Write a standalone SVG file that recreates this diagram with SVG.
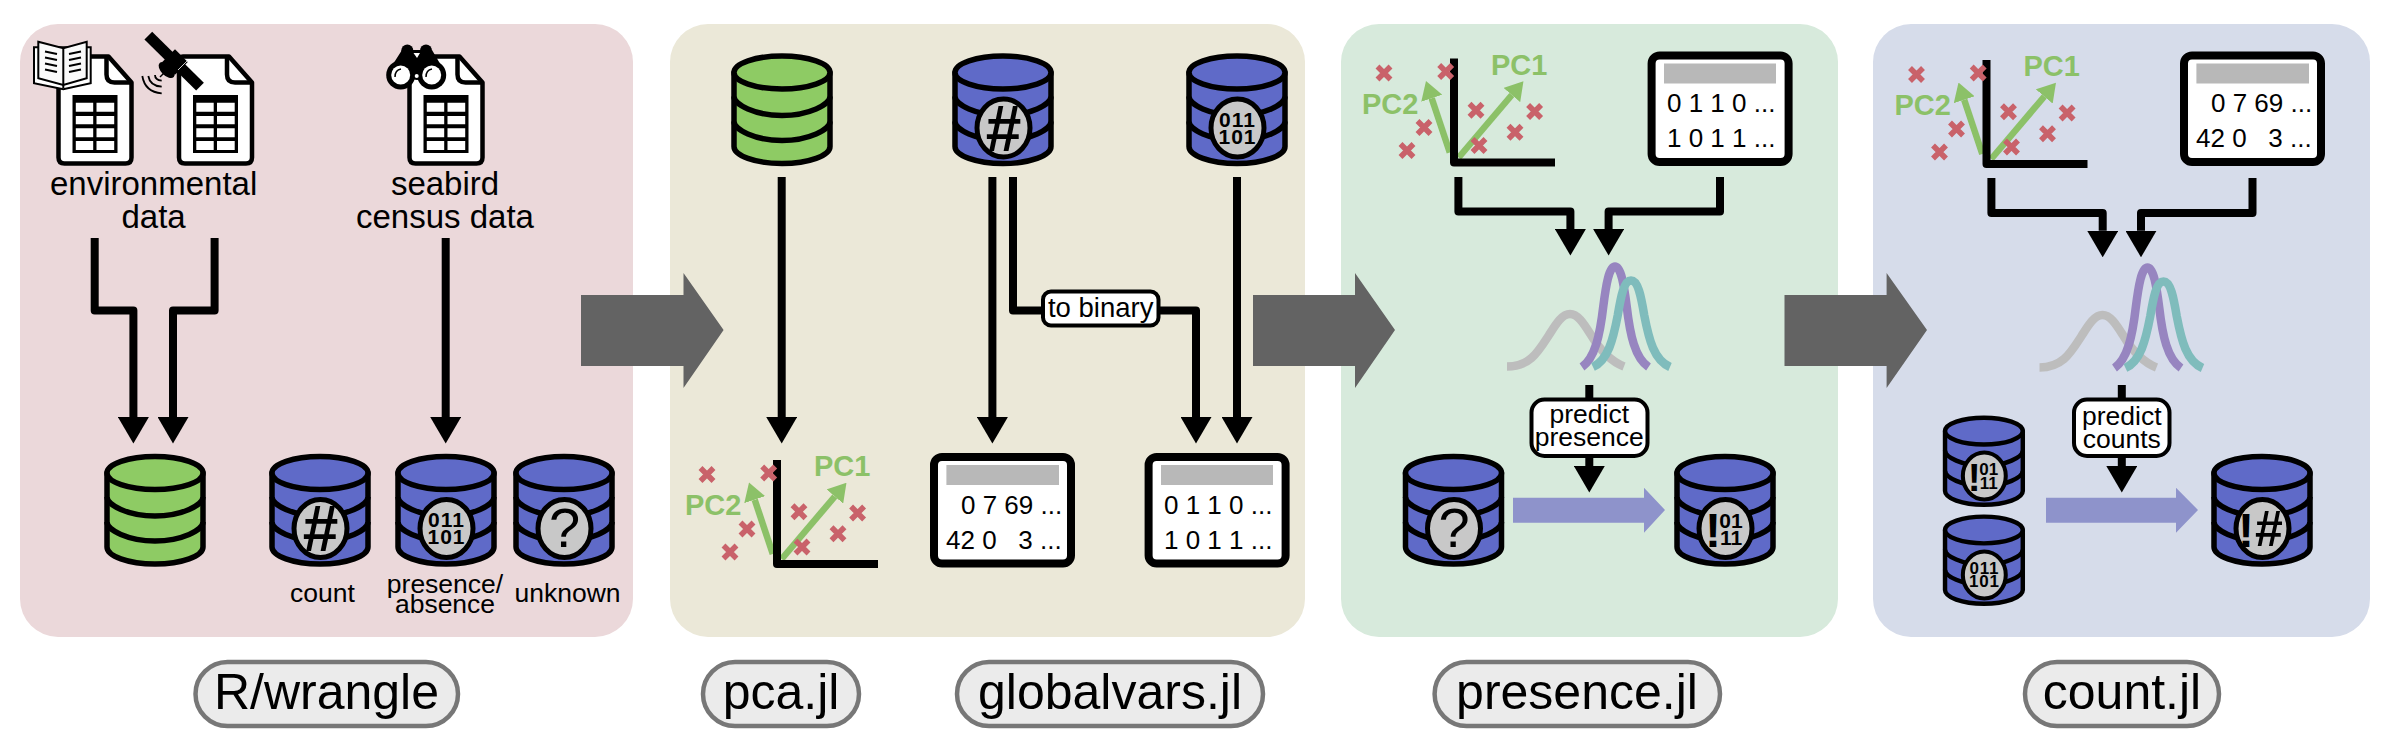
<svg xmlns="http://www.w3.org/2000/svg" xmlns:xlink="http://www.w3.org/1999/xlink" width="2395" height="749" viewBox="0 0 2395 749">
<style>
text{font-family:"Liberation Sans",Arial,sans-serif;fill:#000}
.m{text-anchor:middle}
.lab{font-size:33px}
.sm{font-size:26.5px}
.pill{font-size:50px}
.row{font-size:26px;white-space:pre}
.pc{font-size:29px;font-weight:bold;fill:#8cc168}
.bad{font-weight:bold;text-anchor:middle}
.bin{font-size:21px;letter-spacing:1px}
.arr{fill:none;stroke:#000;stroke-width:8;stroke-linejoin:round;marker-end:url(#ah)}
.box{fill:#fff;stroke:#000;stroke-width:4;}
.pb{fill:#ebebeb;stroke:#777;stroke-width:4.5}
.tb{fill:#fff;stroke:#000;stroke-width:8}
.bar{fill:#b8b8b8}
.big{fill:#636363}
.lt{fill:#8e93cb}
.bc{fill:#c8c8c8;stroke:#000;stroke-width:5}
.curve{fill:none;stroke-width:8.500}
</style>
<defs>
<marker id="ah" viewBox="0 0 26.5 31" refX="0" refY="15.5" markerWidth="26.5" markerHeight="31" markerUnits="userSpaceOnUse" orient="auto"><path d="M0,0L26.5,15.5L0,31Z" fill="#000"/></marker>
<marker id="gh" viewBox="0 0 18 22" refX="0" refY="11" markerWidth="18" markerHeight="22" markerUnits="userSpaceOnUse" orient="auto"><path d="M0,0L18,11L0,22Z" fill="#8cc168"/></marker>
<g id="dbg" stroke="#000" stroke-width="5.5" stroke-linejoin="round">
<path d="M3,19V93C3,102 24,110 51,110C78,110 99,102 99,93V19Z" fill="#8ecb64"/>
<path d="M3,43C3,51 24,62 51,62C78,62 99,51 99,43M3,68C3,76 24,87 51,87C78,87 99,76 99,68" fill="none"/>
<ellipse cx="51" cy="19" rx="48" ry="16.5" fill="#8ecb64"/>
</g>
<g id="dbb" stroke="#000" stroke-width="5.5" stroke-linejoin="round">
<path d="M3,19V93C3,102 24,110 51,110C78,110 99,102 99,93V19Z" fill="#5f6ac8"/>
<path d="M3,43C3,51 24,62 51,62C78,62 99,51 99,43M3,68C3,76 24,87 51,87C78,87 99,76 99,68" fill="none"/>
<ellipse cx="51" cy="19" rx="48" ry="16.5" fill="#5f6ac8"/>
<ellipse class="bc" cx="51.5" cy="74.5" rx="26.5" ry="29"/>
</g>
<g id="doc">
<path d="M7,3H53L76,29V104Q76,110 70,110H9Q3,110 3,104V9Q3,3 7,3Z" fill="#fff" stroke="#000" stroke-width="4.5" stroke-linejoin="round"/>
<path d="M51,3V21Q51,29 59,29H76" fill="none" stroke="#000" stroke-width="4.5"/>
<rect x="17" y="41.5" width="45" height="58" fill="#000"/>
<path d="M20.3,49.2h17.4v9h-17.4zM41,49.2h17.7v9H41zM20.3,62.5h17.4v8.3h-17.4zM41,62.5h17.7v8.3H41zM20.3,74.800h17.4v9h-17.4zM41,74.800h17.700v9H41zM20.300,87.500h17.400v9h-17.400zM41,87.500h17.700v9H41z" fill="#fff"/>
</g>
<path id="x" d="M-6.500,-6.500L6.500,6.500M-6.500,6.500L6.500,-6.500" stroke="#c9626a" stroke-width="5.500" fill="none"/>
<g id="pcam">
<path d="M781.7,559L834.800,496.500" stroke="#8cc168" stroke-width="6.500" fill="none" marker-end="url(#gh)"/>
<path d="M772.8,554L754.700,499.700" stroke="#8cc168" stroke-width="6.500" fill="none" marker-end="url(#gh)"/>
<path d="M777,460V564H878" fill="none" stroke="#000" stroke-width="8" stroke-linejoin="round"/>
<use xlink:href="#x" href="#x" x="707" y="474.500"/>
<use xlink:href="#x" href="#x" x="768.700" y="473"/>
<use xlink:href="#x" href="#x" x="799" y="511.700"/>
<use xlink:href="#x" href="#x" x="857.600" y="513"/>
<use xlink:href="#x" href="#x" x="838" y="533.700"/>
<use xlink:href="#x" href="#x" x="747" y="529"/>
<use xlink:href="#x" href="#x" x="730" y="552"/>
<use xlink:href="#x" href="#x" x="802" y="547"/>
</g>
<g id="curves">
<path class="curve" stroke="#bdbdbd" d="M1507,366.500C1530,366.500 1538,352 1549,335C1556,324 1562,314 1570,314C1578,314 1584,324 1591,335C1600,350 1610,361 1624,366.500"/>
<path class="curve" stroke="#9785c0" d="M1582,367C1595,358 1600,335 1603.300,306.300C1606,285 1609,266.600 1615,266.600C1621,266.600 1624,285 1626.700,306.300C1630,335 1635,358 1648.500,367"/>
<path class="curve" stroke="#7fbcbc" d="M1593,367C1608,360 1613,340 1617.800,315C1621,296 1624,280.500 1631,280.500C1638,280.500 1641,296 1644.200,315C1649,340 1654,360 1670,367"/>
</g>
</defs>

<g id="panels">
<rect id="panel-wrangle" x="20" y="24" width="613" height="613" rx="38" fill="#ebd8da"/>
<rect id="panel-globalvars" x="670" y="24" width="635" height="613" rx="38" fill="#ebe8d8"/>
<rect id="panel-presence" x="1341" y="24" width="497" height="613" rx="38" fill="#d7eadc"/>
<rect id="panel-count" x="1873" y="24" width="497" height="613" rx="38" fill="#d6dcea"/>
</g>

<g id="flow-arrows">
<path class="big" d="M581,295H683.500V273L723.600,330L683.500,388V366H581Z"/>
<path class="big" d="M1253,295H1355V273L1395,330L1355,388V366H1253Z"/>
<path class="big" d="M1784.500,295H1886.600V273L1927,330L1886.600,388V366H1784.500Z"/>
<path class="lt" d="M1513,497.700H1644V487.700L1665,510L1644,532.700V522.700H1513Z"/>
<path class="lt" d="M2046,497.700H2176V487.700L2198,510L2176,532.700V522.700H2046Z"/>
</g>

<g id="connectors">
<path class="arr" d="M94.700,238V310.500H133.400V417"/>
<path class="arr" d="M214.600,238V310.500H173V417"/>
<path class="arr" d="M445.700,238V417"/>
<path class="arr" d="M781.700,177V417"/>
<path class="arr" d="M992.400,177V417"/>
<path class="arr" d="M1013,177V310.500H1196V417"/>
<path class="arr" d="M1237,177V417"/>
<path class="arr" d="M1458.400,177V211.600H1570.400V229"/>
<path class="arr" d="M1720,177V211.600H1608.600V229"/>
<path class="arr" d="M1589.300,385V466"/>
<path class="arr" d="M1991.400,178V213H2102.700V230.800"/>
<path class="arr" d="M2252.500,178V213H2141V230.800"/>
<path class="arr" d="M2121.800,385V466"/>
</g>

<g id="doc-book">
<use xlink:href="#doc" href="#doc" x="55.500" y="53.500"/>
<path d="M34,47.300V83.300L63.300,89.300L90.700,83.300V47.300Z" fill="#fff" stroke="#000" stroke-width="2"/>
<path d="M38.300,41.700L63.300,48.300L86.700,41.700V78.300L63.300,85L38.300,78.300Z" fill="#fafafa" stroke="#000" stroke-width="2"/>
<path d="M63.300,48.300V88" stroke="#000" stroke-width="2"/>
<path d="M45,51.500L57,54M45,57.500L57,60M45,63.500L57,66M45,69.500L57,72M69,54L81,51.500M69,60L81,57.500M69,66L81,63.500M69,72L81,69.500" stroke="#000" stroke-width="2" fill="none"/>
</g>
<g id="doc-satellite">
<use xlink:href="#doc" href="#doc" x="176" y="53.500"/>
<path d="M148.300,35.700L200,86.700" stroke="#000" stroke-width="11"/>
<rect x="166" y="53" width="18" height="18" transform="rotate(45 175 62)" fill="#000"/>
<path d="M178,70L188,60" stroke="#fff" stroke-width="0.800"/>
<ellipse cx="166.700" cy="70" rx="10" ry="5.500" transform="rotate(45 166.700 70)" fill="#000"/>
<path d="M166,71L160,77" stroke="#000" stroke-width="1.500"/>
<path d="M155,75Q155,80 161.700,80.700M148.300,76Q150,86 161.700,86.700M142.300,76Q145,92 161.700,93.300" fill="none" stroke="#000" stroke-width="1.800"/>
</g>
<g id="doc-binoculars">
<use xlink:href="#doc" href="#doc" x="406.500" y="53.500"/>
<path d="M388,72L402,50H432L445,72L441,82L430,78L417,80L404,78L392,82Z" fill="#000"/>
<circle cx="407.300" cy="50.500" r="6"/>
<circle cx="426" cy="50.500" r="6"/>
<path d="M413.500,53L420,53L417,58Z" fill="#fff"/>
<circle cx="400.700" cy="75" r="14.500" fill="#000"/>
<circle cx="431.700" cy="75" r="14.500" fill="#000"/>
<circle cx="400.700" cy="75" r="9.500" fill="#fff"/>
<circle cx="431.700" cy="75" r="9.500" fill="#fff"/>
<path d="M395,77Q395,70 401,69M426,77Q426,70 432,69" fill="none" stroke="#000" stroke-width="1.500"/>
<circle cx="416.700" cy="76" r="2" fill="#fff"/>
</g>
<g id="label-env">
<text class="lab m" x="153.600" y="195">environmental</text>
<text class="lab m" x="153.600" y="228">data</text>
</g>
<g id="label-seabird">
<text class="lab m" x="445" y="195">seabird</text>
<text class="lab m" x="445" y="228">census data</text>
</g>

<g id="db-env"><use xlink:href="#dbg" href="#dbg" x="104" y="454"/></g>
<g id="db-count" transform="translate(269 454)">
<use xlink:href="#dbb" href="#dbb"/>
<text class="bad" font-size="64" x="51.500" y="97">#</text>
<text class="sm m" x="53.500" y="147.700">count</text>
</g>
<g id="db-presence" transform="translate(395 454)">
<use xlink:href="#dbb" href="#dbb"/>
<text class="bad bin" x="51.500" y="73">011</text>
<text class="bad bin" x="51.500" y="90">101</text>
<text class="sm m" x="50" y="138.700">presence/</text>
<text class="sm m" x="50" y="158.700">absence</text>
</g>
<g id="db-unknown" transform="translate(513 454)">
<use xlink:href="#dbb" href="#dbb"/>
<text class="m" font-size="56" x="51.500" y="93">?</text>
<text class="sm m" x="54.500" y="147.700">unknown</text>
</g>

<g id="pill-wrangle"><rect class="pb" x="195.500" y="662" width="262.500" height="64" rx="32"/><text class="pill m" x="326.500" y="708.500">R/wrangle</text></g>
<g id="pill-pca"><rect class="pb" x="703" y="662" width="156" height="64" rx="32"/><text class="pill m" x="781" y="708.500">pca.jl</text></g>
<g id="pill-globalvars"><rect class="pb" x="957" y="662" width="306" height="64" rx="32"/><text class="pill m" x="1110" y="708.500">globalvars.jl</text></g>
<g id="pill-presence"><rect class="pb" x="1434.600" y="662" width="285.400" height="64" rx="32"/><text class="pill m" x="1577" y="708.500">presence.jl</text></g>
<g id="pill-count"><rect class="pb" x="2025" y="662" width="194" height="64" rx="32"/><text class="pill m" x="2122" y="708.500">count.jl</text></g>

<g id="db2-env"><use xlink:href="#dbg" href="#dbg" x="731" y="53.500"/></g>
<g id="db2-count" transform="translate(952 53.500)">
<use xlink:href="#dbb" href="#dbb"/>
<text class="bad" font-size="64" x="51.500" y="97">#</text>
</g>
<g id="db2-presence" transform="translate(1186 53.500)">
<use xlink:href="#dbb" href="#dbb"/>
<text class="bad bin" x="51.500" y="73">011</text>
<text class="bad bin" x="51.500" y="90">101</text>
</g>
<g id="pca-2">
<use xlink:href="#pcam" href="#pcam"/>
<text class="pc" x="814" y="476">PC1</text>
<text class="pc" x="685" y="515">PC2</text>
</g>
<g id="table-count">
<rect class="tb" x="934" y="457" width="137" height="106.500" rx="8"/>
<rect class="bar" x="946.400" y="465" width="112.600" height="20"/>
<text class="row" x="961" y="513.600">0 7 69 ...</text>
<text class="row" x="946" y="548.500">42 0   3 ...</text>
</g>
<g id="table-binary">
<rect class="tb" x="1148.600" y="457" width="137" height="106.500" rx="8"/>
<rect class="bar" x="1161" y="465" width="112" height="20"/>
<text class="row" x="1164" y="513.600">0 1 1 0 ...</text>
<text class="row" x="1164" y="548.500">1 0 1 1 ...</text>
</g>
<g id="label-binary">
<rect class="box" x="1043" y="291.500" width="115.500" height="34" rx="8"/>
<text class="m" font-size="27.500" x="1100.700" y="316.800">to binary</text>
</g>

<g id="pca-3">
<use xlink:href="#pcam" href="#pcam" transform="translate(677 -401.500)"/>
<text class="pc" x="1491" y="74.500">PC1</text>
<text class="pc" x="1362" y="113.500">PC2</text>
</g>
<g id="table-binary-3">
<rect class="tb" x="1651.600" y="55.500" width="137" height="106.500" rx="8"/>
<rect class="bar" x="1664" y="63.500" width="112" height="20"/>
<text class="row" x="1667" y="112">0 1 1 0 ...</text>
<text class="row" x="1667" y="147">1 0 1 1 ...</text>
</g>
<g id="curves-3"><use xlink:href="#curves" href="#curves"/></g>
<g id="label-predict-presence">
<rect class="box" x="1531.500" y="399.500" width="116" height="56.500" rx="13"/>
<text class="sm m" x="1589.300" y="423.300">predict</text>
<text class="sm m" x="1589.300" y="446">presence</text>
</g>
<g id="db3-unknown" transform="translate(1402.500 454)">
<use xlink:href="#dbb" href="#dbb"/>
<text class="m" font-size="56" x="51.500" y="93">?</text>
</g>
<g id="db3-pred" transform="translate(1674 454)">
<use xlink:href="#dbb" href="#dbb"/>
<text class="bad" font-size="48" x="39" y="93">!</text>
<text class="bad" font-size="21" x="57" y="73.500">01</text>
<text class="bad" font-size="21" x="57" y="91">11</text>
</g>

<g id="pca-4">
<use xlink:href="#pcam" href="#pcam" transform="translate(1209.500 -400)"/>
<text class="pc" x="2023.500" y="76">PC1</text>
<text class="pc" x="1894.500" y="115">PC2</text>
</g>
<g id="table-count-4">
<rect class="tb" x="2184" y="55.500" width="137" height="106.500" rx="8"/>
<rect class="bar" x="2196.400" y="63.500" width="112.600" height="20"/>
<text class="row" x="2211" y="112">0 7 69 ...</text>
<text class="row" x="2196" y="147">42 0   3 ...</text>
</g>
<g id="curves-4"><use xlink:href="#curves" href="#curves" transform="translate(532.500 1)"/></g>
<g id="label-predict-counts">
<rect class="box" x="2074" y="399.500" width="95.500" height="56.500" rx="13"/>
<text class="sm m" x="2121.800" y="425">predict</text>
<text class="sm m" x="2121.800" y="447.500">counts</text>
</g>
<g id="db4-pred" transform="translate(1942.600 415.700) scale(.81)">
<use xlink:href="#dbb" href="#dbb"/>
<text class="bad" font-size="48" x="39" y="93">!</text>
<text class="bad" font-size="21" x="57" y="73.500">01</text>
<text class="bad" font-size="21" x="57" y="91">11</text>
</g>
<g id="db4-presence" transform="translate(1942.600 514.600) scale(.81)">
<use xlink:href="#dbb" href="#dbb"/>
<text class="bad bin" x="51.500" y="73">011</text>
<text class="bad bin" x="51.500" y="90">101</text>
</g>
<g id="db4-result" transform="translate(2211 454)">
<use xlink:href="#dbb" href="#dbb"/>
<text class="bad" font-size="48" x="35" y="93">!</text>
<text class="bad" font-size="50" x="58" y="92">#</text>
</g>
</svg>
